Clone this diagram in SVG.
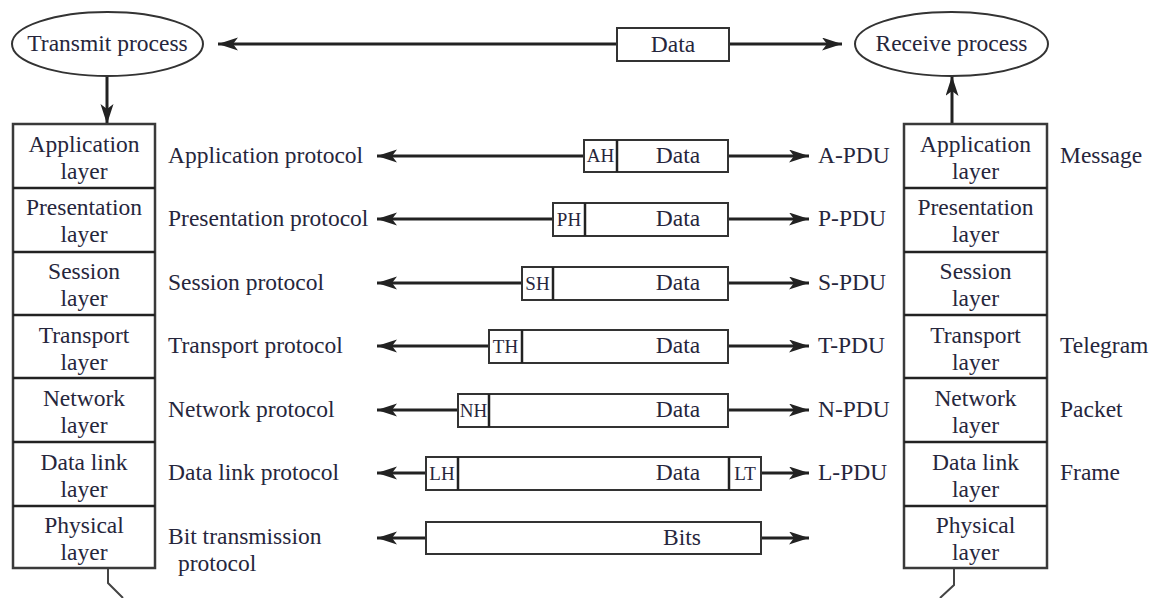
<svg xmlns="http://www.w3.org/2000/svg" width="1152" height="598" viewBox="0 0 1152 598">
<style>
  text { font-family: "Liberation Serif", "Times New Roman", serif; fill: #26263c; }
  .t { font-size: 23.5px; }
  .c { text-anchor: middle; }
  .s { font-size: 19px; }
  .box { fill: #ffffff; stroke: #333333; stroke-width: 2; }
  .stack { fill: #ffffff; stroke: #3a3a3a; stroke-width: 2.5; }
  .ell { fill: #ffffff; stroke: #333333; stroke-width: 2; }
  .arr { fill: none; stroke: #222222; stroke-width: 3; }
  .arr2 { fill: none; stroke: #222222; stroke-width: 3; marker-end: url(#ah); }
  .both { fill: none; stroke: #222222; stroke-width: 3; marker-start: url(#ah); marker-end: url(#ah); }
  .div { stroke: #222222; stroke-width: 2.5; }
  .wire { fill: none; stroke: #444444; stroke-width: 2; }
</style>
<defs>
  <marker id="ah" markerUnits="userSpaceOnUse" markerWidth="22" markerHeight="14" refX="20" refY="6.5" orient="auto-start-reverse" viewBox="0 0 22 14">
    <path d="M0,0 L20,6.5 L0,13 L5,6.5 z" fill="#222222"/>
  </marker>
</defs>

<g id="connectors">
  <line class="arr" x1="218" y1="44" x2="617" y2="44" marker-start="url(#ah)"/>
  <line class="arr2" x1="729" y1="44" x2="842" y2="44"/>
  <line class="arr2" x1="107" y1="76" x2="107" y2="124"/>
  <line class="arr2" x1="952" y1="124" x2="952" y2="76"/>

  <line class="arr" x1="377" y1="156" x2="584" y2="156" marker-start="url(#ah)"/>
  <line class="arr2" x1="728" y1="156" x2="809" y2="156"/>
  <line class="arr" x1="377" y1="219" x2="553" y2="219" marker-start="url(#ah)"/>
  <line class="arr2" x1="728" y1="219" x2="809" y2="219"/>
  <line class="arr" x1="377" y1="283" x2="522" y2="283" marker-start="url(#ah)"/>
  <line class="arr2" x1="728" y1="283" x2="809" y2="283"/>
  <line class="arr" x1="377" y1="346" x2="489" y2="346" marker-start="url(#ah)"/>
  <line class="arr2" x1="728" y1="346" x2="809" y2="346"/>
  <line class="arr" x1="377" y1="410" x2="458" y2="410" marker-start="url(#ah)"/>
  <line class="arr2" x1="728" y1="410" x2="809" y2="410"/>
  <line class="arr" x1="377" y1="473" x2="426" y2="473" marker-start="url(#ah)"/>
  <line class="arr2" x1="761" y1="473" x2="809" y2="473"/>
  <line class="arr" x1="377" y1="538" x2="426" y2="538" marker-start="url(#ah)"/>
  <line class="arr2" x1="761" y1="538" x2="809" y2="538"/>

  <polyline class="wire" points="108,568 108,583 123,598"/>
  <polyline class="wire" points="954,568 954,585 940,598"/>
</g>

<g id="transmit-process">
  <ellipse class="ell" cx="107.5" cy="44" rx="95.5" ry="32"/>
  <text class="t c" x="107.5" y="51">Transmit process</text>
</g>
<g id="data-top">
  <rect class="box" x="617" y="28" width="112" height="33"/>
  <text class="t c" x="673" y="52">Data</text>
</g>
<g id="receive-process">
  <ellipse class="ell" cx="951.5" cy="44" rx="96.5" ry="32"/>
  <text class="t c" x="951.5" y="51">Receive process</text>
</g>

<g id="left-stack">
  <rect class="stack" x="13" y="124" width="142" height="444"/>
  <line class="div" x1="13" y1="188" x2="155" y2="188"/>
  <line class="div" x1="13" y1="252" x2="155" y2="252"/>
  <line class="div" x1="13" y1="315" x2="155" y2="315"/>
  <line class="div" x1="13" y1="378" x2="155" y2="378"/>
  <line class="div" x1="13" y1="442" x2="155" y2="442"/>
  <line class="div" x1="13" y1="506" x2="155" y2="506"/>
  <g id="l-app"><text class="t c" x="84" y="152">Application</text><text class="t c" x="84" y="179">layer</text></g>
  <g id="l-pres"><text class="t c" x="84" y="215">Presentation</text><text class="t c" x="84" y="242">layer</text></g>
  <g id="l-sess"><text class="t c" x="84" y="279">Session</text><text class="t c" x="84" y="306">layer</text></g>
  <g id="l-trans"><text class="t c" x="84" y="343">Transport</text><text class="t c" x="84" y="370">layer</text></g>
  <g id="l-net"><text class="t c" x="84" y="406">Network</text><text class="t c" x="84" y="433">layer</text></g>
  <g id="l-dl"><text class="t c" x="84" y="470">Data link</text><text class="t c" x="84" y="497">layer</text></g>
  <g id="l-phys"><text class="t c" x="84" y="533">Physical</text><text class="t c" x="84" y="560">layer</text></g>
</g>

<g id="right-stack">
  <rect class="stack" x="904" y="124" width="143" height="444"/>
  <line class="div" x1="904" y1="188" x2="1047" y2="188"/>
  <line class="div" x1="904" y1="252" x2="1047" y2="252"/>
  <line class="div" x1="904" y1="315" x2="1047" y2="315"/>
  <line class="div" x1="904" y1="378" x2="1047" y2="378"/>
  <line class="div" x1="904" y1="442" x2="1047" y2="442"/>
  <line class="div" x1="904" y1="506" x2="1047" y2="506"/>
  <g id="r-app"><text class="t c" x="975.5" y="152">Application</text><text class="t c" x="975.5" y="179">layer</text></g>
  <g id="r-pres"><text class="t c" x="975.5" y="215">Presentation</text><text class="t c" x="975.5" y="242">layer</text></g>
  <g id="r-sess"><text class="t c" x="975.5" y="279">Session</text><text class="t c" x="975.5" y="306">layer</text></g>
  <g id="r-trans"><text class="t c" x="975.5" y="343">Transport</text><text class="t c" x="975.5" y="370">layer</text></g>
  <g id="r-net"><text class="t c" x="975.5" y="406">Network</text><text class="t c" x="975.5" y="433">layer</text></g>
  <g id="r-dl"><text class="t c" x="975.5" y="470">Data link</text><text class="t c" x="975.5" y="497">layer</text></g>
  <g id="r-phys"><text class="t c" x="975.5" y="533">Physical</text><text class="t c" x="975.5" y="560">layer</text></g>
</g>

<g id="protocol-labels">
  <text class="t" x="168" y="163">Application protocol</text>
  <text class="t" x="168" y="226">Presentation protocol</text>
  <text class="t" x="168" y="290">Session protocol</text>
  <text class="t" x="168" y="353">Transport protocol</text>
  <text class="t" x="168" y="417">Network protocol</text>
  <text class="t" x="168" y="480">Data link protocol</text>
  <text class="t" x="168" y="544">Bit transmission</text>
  <text class="t" x="178" y="571">protocol</text>
</g>

<g id="pdu-labels">
  <text class="t" x="818" y="163">A-PDU</text>
  <text class="t" x="818" y="226">P-PDU</text>
  <text class="t" x="818" y="290">S-PDU</text>
  <text class="t" x="818" y="353">T-PDU</text>
  <text class="t" x="818" y="417">N-PDU</text>
  <text class="t" x="818" y="480">L-PDU</text>
</g>

<g id="unit-labels">
  <text class="t" x="1060" y="163">Message</text>
  <text class="t" x="1060" y="353">Telegram</text>
  <text class="t" x="1060" y="417">Packet</text>
  <text class="t" x="1060" y="480">Frame</text>
</g>

<g id="a-pdu">
  <rect class="box" x="584" y="140" width="144" height="32"/>
  <line class="div" x1="617" y1="140" x2="617" y2="172"/>
  <text class="s c" x="600.5" y="162">AH</text>
  <text class="t c" x="678" y="163">Data</text>
</g>
<g id="p-pdu">
  <rect class="box" x="553" y="203" width="175" height="33"/>
  <line class="div" x1="585" y1="203" x2="585" y2="236"/>
  <text class="s c" x="569" y="226">PH</text>
  <text class="t c" x="678" y="226">Data</text>
</g>
<g id="s-pdu">
  <rect class="box" x="522" y="267" width="206" height="33"/>
  <line class="div" x1="553" y1="267" x2="553" y2="300"/>
  <text class="s c" x="537.5" y="290">SH</text>
  <text class="t c" x="678" y="290">Data</text>
</g>
<g id="t-pdu">
  <rect class="box" x="489" y="330" width="239" height="33"/>
  <line class="div" x1="522" y1="330" x2="522" y2="363"/>
  <text class="s c" x="505.5" y="353">TH</text>
  <text class="t c" x="678" y="353">Data</text>
</g>
<g id="n-pdu">
  <rect class="box" x="458" y="394" width="270" height="33"/>
  <line class="div" x1="489" y1="394" x2="489" y2="427"/>
  <text class="s c" x="473.5" y="417">NH</text>
  <text class="t c" x="678" y="417">Data</text>
</g>
<g id="l-pdu">
  <rect class="box" x="426" y="457" width="335" height="33"/>
  <line class="div" x1="458" y1="457" x2="458" y2="490"/>
  <line class="div" x1="729" y1="457" x2="729" y2="490"/>
  <text class="s c" x="442" y="480">LH</text>
  <text class="t c" x="678" y="480">Data</text>
  <text class="s c" x="745" y="480">LT</text>
</g>
<g id="bits">
  <rect class="box" x="426" y="522" width="335" height="32"/>
  <text class="t c" x="682" y="545">Bits</text>
</g>
</svg>
